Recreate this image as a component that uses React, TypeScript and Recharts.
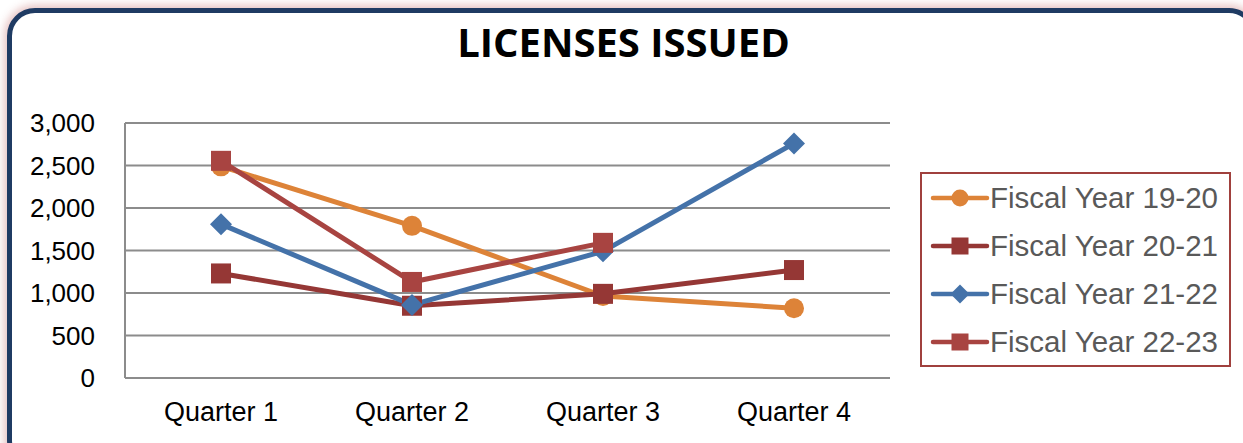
import { LineChart, Line, XAxis, YAxis, CartesianGrid } from "recharts";

const quarters = ["Quarter 1", "Quarter 2", "Quarter 3", "Quarter 4"];
const fy1920 = [2490, 1790, 965, 820];
const fy2021 = [1230, 850, 990, 1270];
const fy2122 = [1810, 860, 1490, 2760];
const fy2223: (number | null)[] = [2555, 1130, 1590, null];
const yTicks = [0, 500, 1000, 1500, 2000, 2500, 3000];

const series = [
  { key: "fy1920", name: "Fiscal Year 19-20", color: "#DD8338", shape: "circle" },
  { key: "fy2021", name: "Fiscal Year 20-21", color: "#953735", shape: "square" },
  { key: "fy2122", name: "Fiscal Year 21-22", color: "#4472A9", shape: "diamond" },
  { key: "fy2223", name: "Fiscal Year 22-23", color: "#A84441", shape: "square" },
];

const data = quarters.map((quarter, i) => ({
  quarter,
  fy1920: fy1920[i],
  fy2021: fy2021[i],
  fy2122: fy2122[i],
  fy2223: fy2223[i],
}));

const Marker = ({ cx, cy, shape, color, size }: any) => {
  if (cx == null || cy == null) return <g />;
  const r = size / 2;
  if (shape === "circle") return <circle cx={cx} cy={cy} r={r} fill={color} />;
  if (shape === "diamond")
    return (
      <polygon
        points={`${cx},${cy - r - 1} ${cx + r + 1},${cy} ${cx},${cy + r + 1} ${cx - r - 1},${cy}`}
        fill={color}
      />
    );
  return <rect x={cx - r} y={cy - r} width={size} height={size} fill={color} />;
};

const makeDot = (shape: string, color: string) => (props: any) => (
  <g key={`${shape}-${props.index}`}>
    <Marker cx={props.cx} cy={props.cy} shape={shape} color={color} size={20} />
  </g>
);

const tickFont = { fontFamily: "'Liberation Sans', Arial, sans-serif", fill: "#000" };

export default function App() {
  return (
    <div style={{ position: "absolute", left: 0, top: 0, width: 1243, height: 443, overflow: "hidden", background: "#fff" }}>
      <div
        style={{
          position: "absolute",
          left: 7,
          top: 8,
          width: 1250,
          height: 460,
          boxSizing: "border-box",
          border: "5px solid #1F3B63",
          borderRadius: 28,
          boxShadow: "0 0 8px 3px rgba(200,120,120,0.45)",
          background: "#fff",
        }}
      />
      <div
        style={{
          position: "absolute",
          left: 2,
          top: 15,
          width: 1243,
          textAlign: "center",
          fontFamily: "'Open Sans', sans-serif",
          fontWeight: 700,
          fontSize: 40,
          lineHeight: "54px",
          color: "#000",
        }}
      >
        LICENSES ISSUED
      </div>
      <div style={{ position: "absolute", left: 0, top: 0 }}>
        <LineChart width={1243} height={443} data={data} margin={{ top: 123, right: 353, left: 0, bottom: 0 }}>
          <CartesianGrid vertical={false} stroke="#8C8C8C" strokeWidth={2} />
          <XAxis
            dataKey="quarter"
            height={65}
            padding={{ left: 96, right: 96 }}
            tickLine={false}
            tickSize={0}
            tickMargin={24}
            axisLine={{ stroke: "#8C8C8C", strokeWidth: 2 }}
            tick={{ ...tickFont, fontSize: 27 }}
          />
          <YAxis
            width={125}
            domain={[0, 3000]}
            ticks={yTicks}
            interval={0}
            tickLine={false}
            tickSize={0}
            tickMargin={30}
            axisLine={{ stroke: "#8C8C8C", strokeWidth: 2 }}
            tickFormatter={(v: number) => v.toLocaleString("en-US")}
            tick={{ ...tickFont, fontSize: 26 }}
          />
          {series.map((s) => (
            <Line
              key={s.key}
              dataKey={s.key}
              name={s.name}
              stroke={s.color}
              strokeWidth={5}
              strokeLinejoin="round"
              dot={makeDot(s.shape, s.color)}
              activeDot={false}
              isAnimationActive={false}
            />
          ))}
        </LineChart>
      </div>
      <div
        style={{
          position: "absolute",
          left: 920,
          top: 172,
          width: 311,
          height: 195,
          boxSizing: "border-box",
          border: "2px solid #A0403D",
          background: "#fff",
          paddingTop: 0,
        }}
      >
        {series.map((s) => (
          <div key={s.key} style={{ display: "flex", alignItems: "center", height: 48 }}>
            <svg width={70} height={24} style={{ marginLeft: 8, flex: "none" }}>
              <line x1={3} y1={12} x2={57} y2={12} stroke={s.color} strokeWidth={4.5} strokeLinecap="round" />
              <Marker cx={30} cy={12} shape={s.shape} color={s.color} size={17} />
            </svg>
            <span
              style={{
                marginLeft: -10,
                fontFamily: "'Liberation Sans', Arial, sans-serif",
                fontSize: 29.5,
                color: "#595959",
                whiteSpace: "nowrap",
              }}
            >
              {s.name}
            </span>
          </div>
        ))}
      </div>
    </div>
  );
}
